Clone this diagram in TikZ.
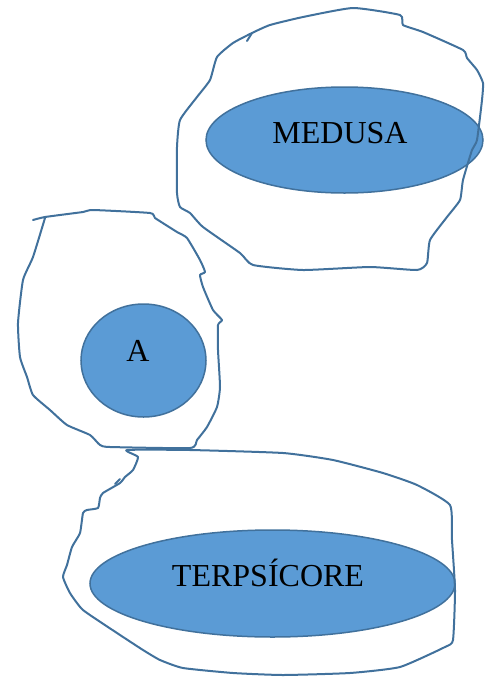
\documentclass[tikz,border=0pt]{standalone}
\usepackage{fontspec}
\setmainfont{Liberation Serif}
\usetikzlibrary{shapes.geometric}
\definecolor{bubblefill}{HTML}{5B9BD5}
\definecolor{bubbleedge}{HTML}{41719C}
\definecolor{ink}{HTML}{41719C}
\begin{document}
\begin{tikzpicture}[x=1pt,y=-1pt,
  bubble/.style={ellipse, draw=bubbleedge, fill=bubblefill, line width=1.5pt, inner sep=0pt},
  word/.style={font=\fontsize{32}{36}\selectfont, text height=21pt, text depth=0pt, inner sep=0pt},
  scribble/.style={draw=ink, line width=2pt, line join=round, line cap=round}]
\useasboundingbox (0,0) rectangle (493,678);

% the three named ellipses
\node[bubble, minimum width=277pt, minimum height=106pt,
      label={[word, xshift=-4.5pt, yshift=7.5pt]center:MEDUSA}] (medusa) at (344.5,140) {};
\node[bubble, minimum width=125pt, minimum height=113pt,
      label={[word, xshift=-5.5pt, yshift=9.5pt]center:A}] (a) at (143.5,360.5) {};
\node[bubble, minimum width=365pt, minimum height=107pt,
      label={[word, xshift=-4.5pt, yshift=7.5pt]center:TERPSÍCORE}] (terpsicore) at (272.5,583.5) {};

% hand-drawn outline around the upper group (drawn over the ellipse)
\draw[scribble] plot[smooth cycle, tension=0.3] coordinates {
  (252,33) (270,25) (303,17) (353,8) (400,15) (403,25) (423,32) (463,50)
  (467,58) (477,70) (483,83) (482,100) (477,140) (472,150) (463,180)
  (460,200) (447,217) (430,240) (427,263) (417,270) (370,267) (303,270)
  (253,265) (240,253) (203,227) (190,213) (180,207) (177,193) (177,147)
  (180,120) (197,97) (210,80) (217,57) (233,43)};
\draw[scribble] (247,41) -- (252,33);

% hand-drawn outline around the middle group
\draw[scribble] plot[smooth, tension=0.3] coordinates {
  (33,220) (45,217) (83,212) (93,210) (150,213) (155,218) (177,232)
  (187,238) (200,260) (205,272) (200,275) (203,287) (213,310) (222,320)
  (218,325) (218,350) (220,387) (217,407) (207,427) (197,440) (190,448)
  (110,447) (100,445) (90,435) (67,425) (50,410) (33,395) (27,377)
  (20,357) (18,323) (23,280) (33,257) (45,218)};

% hand-drawn outline around the lower group
\draw[scribble] plot[smooth cycle, tension=0.3] coordinates {
  (127,450) (190,450) (283,453) (333,460) (383,473) (417,485) (450,505)
  (452,540) (455,590) (453,640) (445,647) (400,667) (350,673) (283,675)
  (233,673) (183,668) (160,660) (143,650) (117,633) (83,610) (70,593)
  (63,577) (67,565) (72,547) (80,533) (83,513) (87,510) (98,508)
  (100,498) (103,493) (120,483) (125,477) (133,470) (138,457)};
\draw[scribble] (115,484) -- (120,479);
\end{tikzpicture}
\end{document}
